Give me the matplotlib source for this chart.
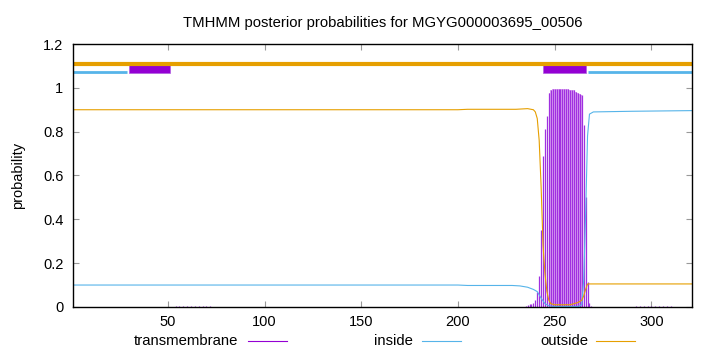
import numpy as np
import matplotlib
matplotlib.use("Agg")
import matplotlib.pyplot as plt
from matplotlib.lines import Line2D

plt.rcParams['font.family'] = ['Liberation Sans', 'DejaVu Sans']

title = "TMHMM posterior probabilities for MGYG000003695_00506"
seq_len = 321

# posterior curves (residue, probability)
inside_x = [1, 100, 150, 200, 205, 228, 232, 236, 239, 241, 243, 245, 247, 250,
            262, 264, 265, 266, 267, 268, 270, 290, 321]
inside_y = [0.10, 0.10, 0.10, 0.10, 0.098, 0.098, 0.096, 0.09, 0.08, 0.07, 0.04,
            0.015, 0.005, 0.002, 0.002, 0.01, 0.12, 0.42, 0.78, 0.88, 0.89, 0.893, 0.896]

outside_x = [1, 200, 205, 230, 236, 239, 240, 241, 242, 243, 244, 245, 246, 247,
             248, 250, 258, 262, 264, 265, 266, 267, 321]
outside_y = [0.90, 0.90, 0.902, 0.902, 0.905, 0.90, 0.89, 0.86, 0.76, 0.55, 0.28,
             0.15, 0.07, 0.03, 0.015, 0.01, 0.01, 0.02, 0.03, 0.05, 0.08, 0.105, 0.105]

# transmembrane posterior per residue (impulses)
tm_x = [52, 54, 56, 58, 60, 62, 64, 66, 68, 70, 72, 74, 76,
        235, 236, 237, 238, 239, 240, 241, 242, 243, 244, 245, 246, 247, 248,
        249, 250, 251, 252, 253, 254, 255, 256, 257, 258, 259, 260, 261, 262,
        263, 264, 265, 266, 267, 268, 269,
        290, 292, 294, 296, 298, 300, 302, 304, 306, 308, 310, 312, 314]
tm_y = [0.002, 0.003, 0.003, 0.003, 0.004, 0.004, 0.004, 0.003, 0.003, 0.003,
        0.003, 0.002, 0.002,
        0.005, 0.01, 0.012, 0.015, 0.02, 0.03, 0.07, 0.14, 0.35, 0.69, 0.81, 0.87,
        0.975, 0.99, 0.993, 0.994, 0.994, 0.994, 0.994, 0.994, 0.993, 0.993, 0.993,
        0.992, 0.991, 0.99, 0.98, 0.975, 0.97, 0.965, 0.83, 0.50, 0.115, 0.02, 0.005,
        0.002, 0.003, 0.003, 0.003, 0.004, 0.004, 0.004, 0.003, 0.003, 0.003,
        0.003, 0.002, 0.002]

# predicted topology along the top
outside_seg = [(1, 321)]
inside_seg = [(1, 29), (267, 321)]
tm_seg = [(30, 51), (244, 266)]

xticks = [50, 100, 150, 200, 250, 300]
yticks = [0, 0.2, 0.4, 0.6, 0.8, 1, 1.2]
ytick_labels = ["0", "0.2", "0.4", "0.6", "0.8", "1", "1.2"]

c_tm = '#9400d3'
c_in = '#56b4e9'
c_out = '#e69f00'

fig = plt.figure(figsize=(7.2, 3.52), dpi=100)
ax = fig.add_axes([0.1014, 0.128, 0.8597, 0.747])

tx = np.array(tm_x)
ty = np.array(tm_y)
# light shading under the plateau, as the dense impulses blend there
ax.fill_between(tx, ty, step='mid', where=ty > 0.95, color='#dba8f2', lw=0)
ax.vlines(tx, 0, ty, color='#a030e0', lw=0.9)
ax.plot(inside_x, inside_y, color=c_in, lw=0.8)
ax.plot(outside_x, outside_y, color=c_out, lw=0.8)

for a, b in outside_seg:
    ax.plot([a, b], [1.111, 1.111], color=c_out, lw=3.0, solid_capstyle='butt')
for a, b in inside_seg:
    ax.plot([a, b], [1.073, 1.073], color=c_in, lw=2.0, solid_capstyle='butt')
for a, b in tm_seg:
    ax.bar(a, 0.035, width=b - a, bottom=1.067, align='edge', color=c_tm,
           edgecolor='#b060e0', lw=0.5)

ax.set_xlim(1, seq_len)
ax.set_ylim(0, 1.2)
ax.set_xticks(xticks)
ax.set_yticks(yticks)
ax.set_yticklabels(ytick_labels)
ax.tick_params(direction='in', length=4, width=0.8, color='#999999',
               top=True, right=True, labelsize=10.5, pad=7)
ax.tick_params(axis='x', pad=6)
for s in ax.spines.values():
    s.set_linewidth(1.0)
    s.set_color('black')

ax.set_title(title, fontsize=10.7, pad=12)
ax.set_ylabel("probability", fontsize=10.5, labelpad=13)

# legend along the bottom, gnuplot style
legend_items = [("transmembrane", c_tm, 238, 248, 287),
                ("inside", c_in, 413, 422, 461),
                ("outside", c_out, 588, 596, 635)]
ly = 1 - 341 / 352
for label, col, tx_, x0, x1 in legend_items:
    fig.text(tx_ / 720, ly, label, ha='right', va='center', fontsize=10.7)
    fig.add_artist(Line2D([x0 / 720, x1 / 720], [ly, ly], color=col, lw=0.8,
                          transform=fig.transFigure))

fig.savefig("out.png", dpi=100)
